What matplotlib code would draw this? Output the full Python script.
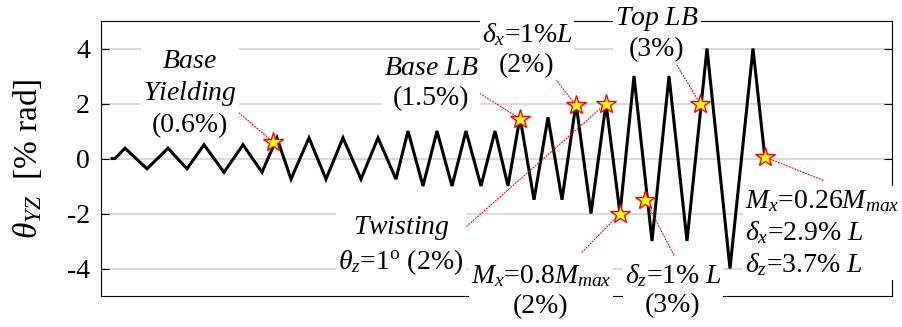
import matplotlib
matplotlib.use("Agg")
import matplotlib.pyplot as plt

plt.rcParams['font.family'] = ['Liberation Serif', 'DejaVu Serif']
plt.rcParams['mathtext.fontset'] = 'custom'
plt.rcParams['mathtext.rm'] = 'Liberation Serif'
plt.rcParams['mathtext.it'] = 'Liberation Serif:italic'
plt.rcParams['mathtext.bf'] = 'Liberation Serif:bold'

# ---------------- data ----------------
# loading protocol: vertices of the drift history (step index, drift in % rad)
step = [0, 3, 13, 35, 56, 75, 92, 112, 131, 150,
        165, 179, 197, 214, 231, 249, 266, 284,
        296, 311, 325, 340, 354, 369, 383, 396,
        408, 422, 436, 450, 464, 479, 494, 508,
        522, 540, 557, 575, 595, 618, 641, 653]
drift = [0, 0, 0.375, -0.375, 0.375, -0.375, 0.5, -0.5, 0.5, -0.5,
         0.75, -0.75, 0.75, -0.75, 0.75, -0.75, 0.75, -0.75,
         1, -1, 1, -1, 1, -1, 1, -1,
         1.5, -1.5, 1.5, -1.5, 2, -2, 2, -2,
         3, -3, 3, -3, 4, -4, 4, 0]

# damage events (star markers)
event_step = [161, 408, 464, 494, 508, 533, 588, 653]
event_drift = [0.6, 1.45, 1.93, 2.0, -2.0, -1.5, 2.0, 0.05]
event_label = [
    "$\\mathit{Base}$\n$\\mathit{Yielding}$\n(0.6%)",
    "$\\mathit{Base\\ LB}$\n(1.5%)",
    "$\\delta_x$=1%$L$\n(2%)",
    "$\\mathit{Twisting}$\n$\\theta_z$=1$^{\\rm o}$ (2%)",
    "$M_x$=0.8$M_{max}$\n(2%)",
    "$\\delta_z$=1% $L$\n(3%)",
    "$\\mathit{Top\\ LB}$\n(3%)",
    "$M_x$=0.26$M_{max}$\n$\\delta_x$=2.9% $L$\n$\\delta_z$=3.7% $L$",
]
y_ticks = [-4, -2, 0, 2, 4]

# ---------------- layout (annotation placement) ----------------
text_pos = [(78, 2.36), (319, 2.72), (415, 3.97), (289, -3.17),
            (429, -4.83), (561, -4.79), (545, 4.54), (633, -2.72)]
text_ha = ['center'] * 7 + ['left']
leader_start = [(118, 1.94), (353, 2.70), (442, 2.96), (348, -2.68),
                (470, -3.41), (562, -3.52), (565, 3.39), (711, -0.79)]

fig = plt.figure(figsize=(9.02, 3.27), dpi=100)
ax = fig.add_axes([101 / 902, 31 / 327, 791 / 902, 275 / 327])

ax.plot(step, drift, color='black', lw=2.2, zorder=3, solid_joinstyle='miter')

for (sx, sy), ex, ey in zip(leader_start, event_step, event_drift):
    ax.annotate('', xy=(ex, ey), xytext=(sx, sy),
                arrowprops=dict(arrowstyle='-', color='red', lw=0.8,
                                linestyle=':', shrinkA=0, shrinkB=0),
                zorder=3.5)

ax.plot(event_step, event_drift, ls='none', marker='*', ms=15,
        mfc='yellow', mec='red', mew=1.0, zorder=4)

for (tx, ty), lab, ha in zip(text_pos, event_label, text_ha):
    ax.text(tx, ty, lab, ha=ha, va='center', multialignment=ha, fontsize=20,
            linespacing=1.25, zorder=6, clip_on=False,
            bbox=dict(facecolor='white', edgecolor='none', pad=1.5))

ax.set_xlim(-11, 780)
ax.set_ylim(-5, 5)
ax.set_yticks(y_ticks)
ax.set_yticklabels([str(v) for v in y_ticks])
ax.set_xticks([])
ax.yaxis.grid(True, color='#d4d4d4', lw=1.2)
ax.set_axisbelow(True)
ax.tick_params(axis='y', direction='in', length=6, width=0.8, labelsize=20,
               pad=8, left=True, right=True)
for sp in ax.spines.values():
    sp.set_linewidth(0.8)
    sp.set_zorder(2.5)

ax.set_ylabel("$\\theta_{YZ}$  [% rad]", fontsize=24)
ax.yaxis.set_label_coords(-0.072, 0.5)

fig.savefig("out.png", dpi=100)
